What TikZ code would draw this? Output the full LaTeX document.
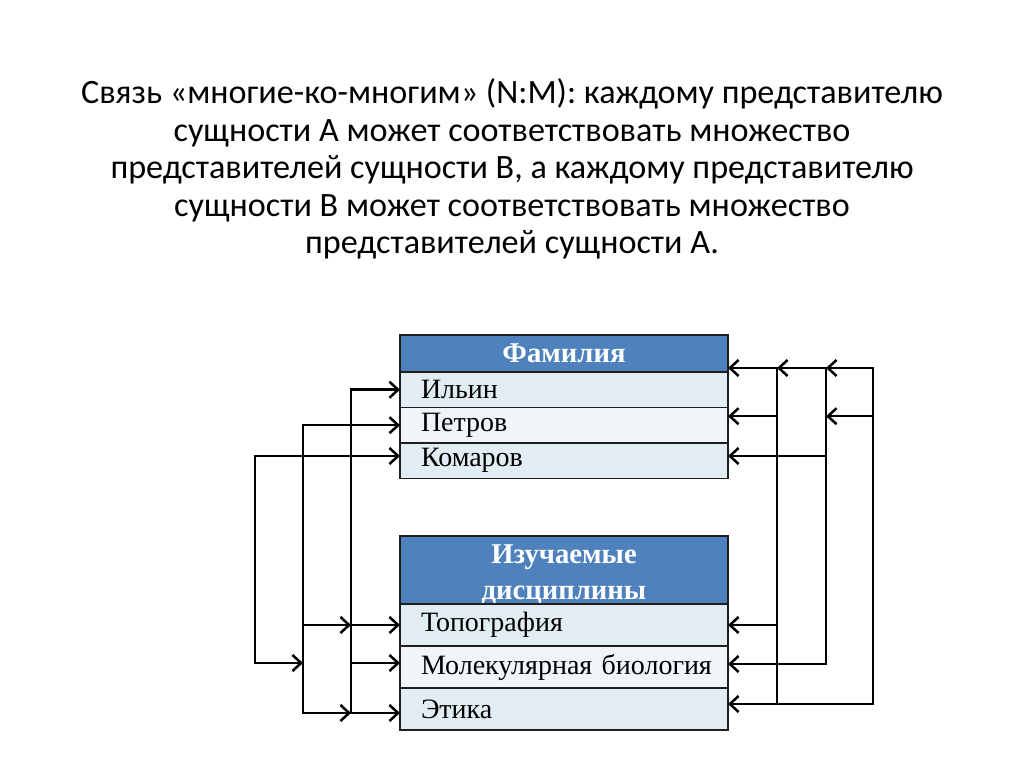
\documentclass[tikz,border=0pt]{standalone}
\usepackage{fontspec}
\setmainfont{Liberation Serif}
\newfontfamily\titlefont{Carlito}
\usetikzlibrary{positioning,arrows.meta}

\definecolor{headblue}{RGB}{79,129,189}
\definecolor{rowdark}{RGB}{226,237,243}
\definecolor{rowlight}{RGB}{239,245,248}
\definecolor{gridline}{RGB}{30,30,30}

\tikzset{
  tabhead/.style={draw=gridline, line width=1pt, outer sep=0pt, fill=headblue, minimum width=246pt,
    text=white, font=\bfseries\fontsize{21.5}{26.5}\selectfont, align=center, inner sep=0pt},
  tabrow/.style={draw=gridline, line width=1pt, outer sep=0pt, minimum width=246pt, text width=214.5pt,
    inner xsep=15.75pt, inner ysep=0pt, align=left, font=\fontsize{21}{26}\selectfont},
}

\begin{document}
\begin{tikzpicture}[x=0.75pt,y=-0.75pt,line width=1.9pt,
    >={Straight Barb[length=6.5pt,width=12pt]}]
  \useasboundingbox (0,0) rectangle (1024,767);

  % heading
  \node[font=\titlefont\fontsize{25.6}{28.2}\selectfont, align=center] (title) at (512,169)
    {Связь «многие-ко-многим» (N:M): каждому представителю\\
     сущности А может соответствовать множество\\
     представителей сущности В, а каждому представителю\\
     сущности В может соответствовать множество\\
     представителей сущности А.};

  % table of surnames
  \node[tabhead, minimum height=27.75pt, anchor=north west] (fam) at (400,335) {Фамилия};
  \node[tabrow, fill=rowdark, minimum height=26.6pt, below=0pt of fam] (ilin) {Ильин};
  \node[tabrow, fill=rowlight, minimum height=26.6pt, below=0pt of ilin] (pet) {Петров};
  \node[tabrow, fill=rowdark, minimum height=26.6pt, below=0pt of pet] (kom) {Комаров};

  % table of disciplines
  \node[tabhead, minimum height=51pt, anchor=north west] (disc) at (400,536)
    {\raisebox{-8.5pt}[0pt][0pt]{\begin{tabular}{@{}c@{}}Изучаемые\\дисциплины\end{tabular}}};
  \node[tabrow, fill=rowdark, minimum height=31.5pt, below=0pt of disc] (topo) {Топография};
  \node[tabrow, fill=rowlight, minimum height=31.5pt, below=0pt of topo] (mol)
    {\mbox{Молекулярная биология}};
  \node[tabrow, fill=rowdark, minimum height=31.5pt, below=0pt of mol] (eti) {Этика};

  % rails
  \coordinate (L1) at (255,0);
  \coordinate (L2) at (303,0);
  \coordinate (L3) at (351,0);
  \coordinate (R1) at (777,0);
  \coordinate (R2) at (826,0);
  \coordinate (R3) at (873,0);

  % arrow ends on the tables
  \coordinate (ilL) at (ilin.west);
  \coordinate (peL) at (pet.west);
  \coordinate (koL) at ([yshift=3.5pt]kom.west);
  \coordinate (toL) at (topo.west);
  \coordinate (moL) at ([yshift=3pt]mol.west);
  \coordinate (etL) at ([yshift=-3pt]eti.west);
  \coordinate (faR) at ([yshift=3pt]fam.south east);
  \coordinate (peR) at ([yshift=6.75pt]pet.east);
  \coordinate (koR) at ([yshift=3.5pt]kom.east);
  \coordinate (toR) at (topo.east);
  \coordinate (moR) at ([yshift=2.25pt]mol.east);
  \coordinate (etR) at ([yshift=3.75pt]eti.east);

  % left side
  \draw[<->] (koL) -- (L1 |- koL) -- (L1 |- moL) -- (L2 |- moL);
  \draw[<->] (peL) -- (L2 |- peL) -- (L2 |- etL) -- (L3 |- etL);
  \draw[->] (L2 |- toL) -- (L3 |- toL);
  \draw[<->] (ilL) -- (L3 |- ilL) -- (L3 |- etL) -- (etL);
  \draw[<-] (toL) -- (L3 |- toL);
  \draw[<-] (moL) -- (L3 |- moL);

  % right side
  \draw[<-] (faR) -- (R1 |- faR) -- (R1 |- etR);
  \draw[<-] (peR) -- (R1 |- peR);
  \draw[<-] (toR) -- (R1 |- toR);
  \draw[<->] (R1 |- faR) -- (R2 |- faR) -- (R2 |- moR) -- (moR);
  \draw[<-] (koR) -- (R2 |- koR);
  \draw[<->] (R2 |- faR) -- (R3 |- faR) -- (R3 |- etR) -- (etR);
  \draw[<-] (R2 |- peR) -- (R3 |- peR);
\end{tikzpicture}
\end{document}
